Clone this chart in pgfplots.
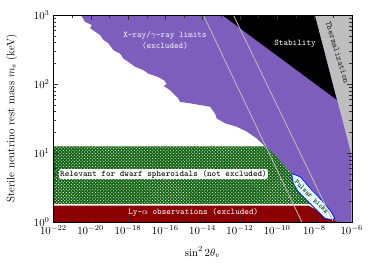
\documentclass[border=0pt]{standalone}
\usepackage{pgfplots}
\usepackage{pgfplotstable}
\pgfplotsset{compat=1.18}
\usetikzlibrary{patterns}
\definecolor{xpurple}{RGB}{125,94,188}
\definecolor{tgray}{RGB}{190,190,190}
\definecolor{lyred}{RGB}{140,0,0}
\definecolor{dgreen}{RGB}{20,100,20}
\definecolor{lgray}{RGB}{185,185,185}

% polygons in log10 units (lx = log10 sin^2 2theta, ly = log10 m_s/keV)
\pgfplotstableread{
lx ly
-20.53 3.0
-20.30 2.90
-19.94 2.855
-20.03 2.81
-19.50 2.71
-19.32 2.64
-19.05 2.59
-18.78 2.49
-18.42 2.44
-18.25 2.37
-17.98 2.32
-17.62 2.25
-17.17 2.20
-16.91 2.15
-16.37 2.10
-16.05 2.05
-15.92 2.00
-16.08 1.97
-15.74 1.91
-15.30 1.79
-15.21 1.74
-14.67 1.72
-13.60 1.67
-13.33 1.57
-13.24 1.50
-12.79 1.43
-12.17 1.38
-11.63 1.31
-11.09 1.21
-10.65 1.09
-10.02 0.943
-9.58 0.798
-9.22 0.702
-8.9 0.6
-8.4 0.435
-7.85 0.267
-7.5 0.17
-7.15 0.049
-6.9 0
-6 0
-6 3
}\xray
\pgfplotstableread{
lx ly
-12.95 3
-7.97 3
-6.80 1.77
}\stab
\pgfplotstableread{
lx ly
-7.97 3
-6 3
-6 0.96
}\therm
\pgfplotstableread{
lx ly
-22 0.26
-22 1.095
-10.65 1.095
-10.02 0.943
-9.58 0.798
-9.22 0.702
-9.13 0.557
-8.86 0.435
-8.50 0.340
-8.24 0.267
-8.2 0.26
}\dwarf
\pgfplotstableread{
lx ly
-22 0
-22 0.235
-8.3 0.235
-6.78 0
}\lya
\pgfplotstableread{
lx ly
-9.22 0.702
-9.13 0.557
-8.86 0.435
-8.50 0.340
-8.24 0.267
-7.88 0.170
-7.43 0.049
-7.07 0.035
-6.90 0.049
-7.16 0.170
-7.61 0.315
-8.14 0.46
-8.76 0.653
}\pulsar
\pgfplotstableread{
lx ly
-13.96 3
-8.68 0
}\lineA
\pgfplotstableread{
lx ly
-12.35 3
-6.98 0
}\lineB

\begin{document}
\begin{tikzpicture}
\begin{axis}[
  scale only axis,
  width=276pt, height=191.4pt,
  xmode=log, ymode=log,
  xmin=1e-22, xmax=1e-6,
  ymin=1, ymax=1000,
  xtick={1e-22,1e-20,1e-18,1e-16,1e-14,1e-12,1e-10,1e-8,1e-6},
  minor xtick={1e-21,1e-19,1e-17,1e-15,1e-13,1e-11,1e-9,1e-7},
  ytick={1,10,100,1000},
  xlabel={$\sin^2 2\theta_v$},
  ylabel={Sterile neutrino rest mass $m_s$ (keV)},
  xlabel style={at={(axis description cs:0.5,-0.146)},anchor=center},
  ylabel style={at={(axis description cs:-0.140,0.5)},anchor=center},
  axis on top,
  clip=true,
  tick style={black!80},
]
\addplot[fill=xpurple, draw=none] table[x expr={10^(\thisrow{lx})}, y expr={10^(\thisrow{ly})}] {\xray} -- cycle;
\addplot[fill=black, draw=none] table[x expr={10^(\thisrow{lx})}, y expr={10^(\thisrow{ly})}] {\stab} -- cycle;
\addplot[fill=tgray, draw=none] table[x expr={10^(\thisrow{lx})}, y expr={10^(\thisrow{ly})}] {\therm} -- cycle;
\addplot[fill=dgreen, draw=none, postaction={pattern=crosshatch dots, pattern color=white}] table[x expr={10^(\thisrow{lx})}, y expr={10^(\thisrow{ly})}] {\dwarf} -- cycle;
\addplot[fill=lyred, draw=none] table[x expr={10^(\thisrow{lx})}, y expr={10^(\thisrow{ly})}] {\lya} -- cycle;
\addplot[fill=white, draw=blue, thin, postaction={pattern=north east lines, pattern color=cyan!45}] table[x expr={10^(\thisrow{lx})}, y expr={10^(\thisrow{ly})}] {\pulsar} -- cycle;
\addplot[lgray, line width=0.8pt] table[x expr={10^(\thisrow{lx})}, y expr={10^(\thisrow{ly})}] {\lineA};
\addplot[lgray, line width=0.8pt] table[x expr={10^(\thisrow{lx})}, y expr={10^(\thisrow{ly})}] {\lineB};

\node[text=white!92!xpurple, align=center, font=\footnotesize\ttfamily] at (rel axis cs:0.374,0.877) {X-ray/$\gamma$-ray limits\\(excluded)};
\node[text=white, font=\footnotesize\ttfamily] at (rel axis cs:0.81,0.863) {Stability};
\node[text=black!85, font=\footnotesize\ttfamily, rotate=-73] at (rel axis cs:0.952,0.819) {Thermalization};
\node[fill=white, rounded corners=1.5pt, inner sep=1pt, font=\footnotesize\ttfamily] at (rel axis cs:0.369,0.231) {Relevant for dwarf spheroidals (not excluded)};
\node[text=white, font=\footnotesize\ttfamily] at (rel axis cs:0.469,0.045) {Ly-$\alpha$ observations (excluded)};
\node[text=black, font=\fontsize{6.5}{7}\selectfont\ttfamily, rotate=-45, inner sep=0pt] at (rel axis cs:0.866,0.121) {Pulsar kicks};
\end{axis}
\pgfresetboundingbox
\path[use as bounding box] ([xshift=-49.4pt,yshift=-37.3pt]current axis.south west) rectangle ([xshift=20.6pt,yshift=13.9pt]current axis.north east);
\end{tikzpicture}
\end{document}
